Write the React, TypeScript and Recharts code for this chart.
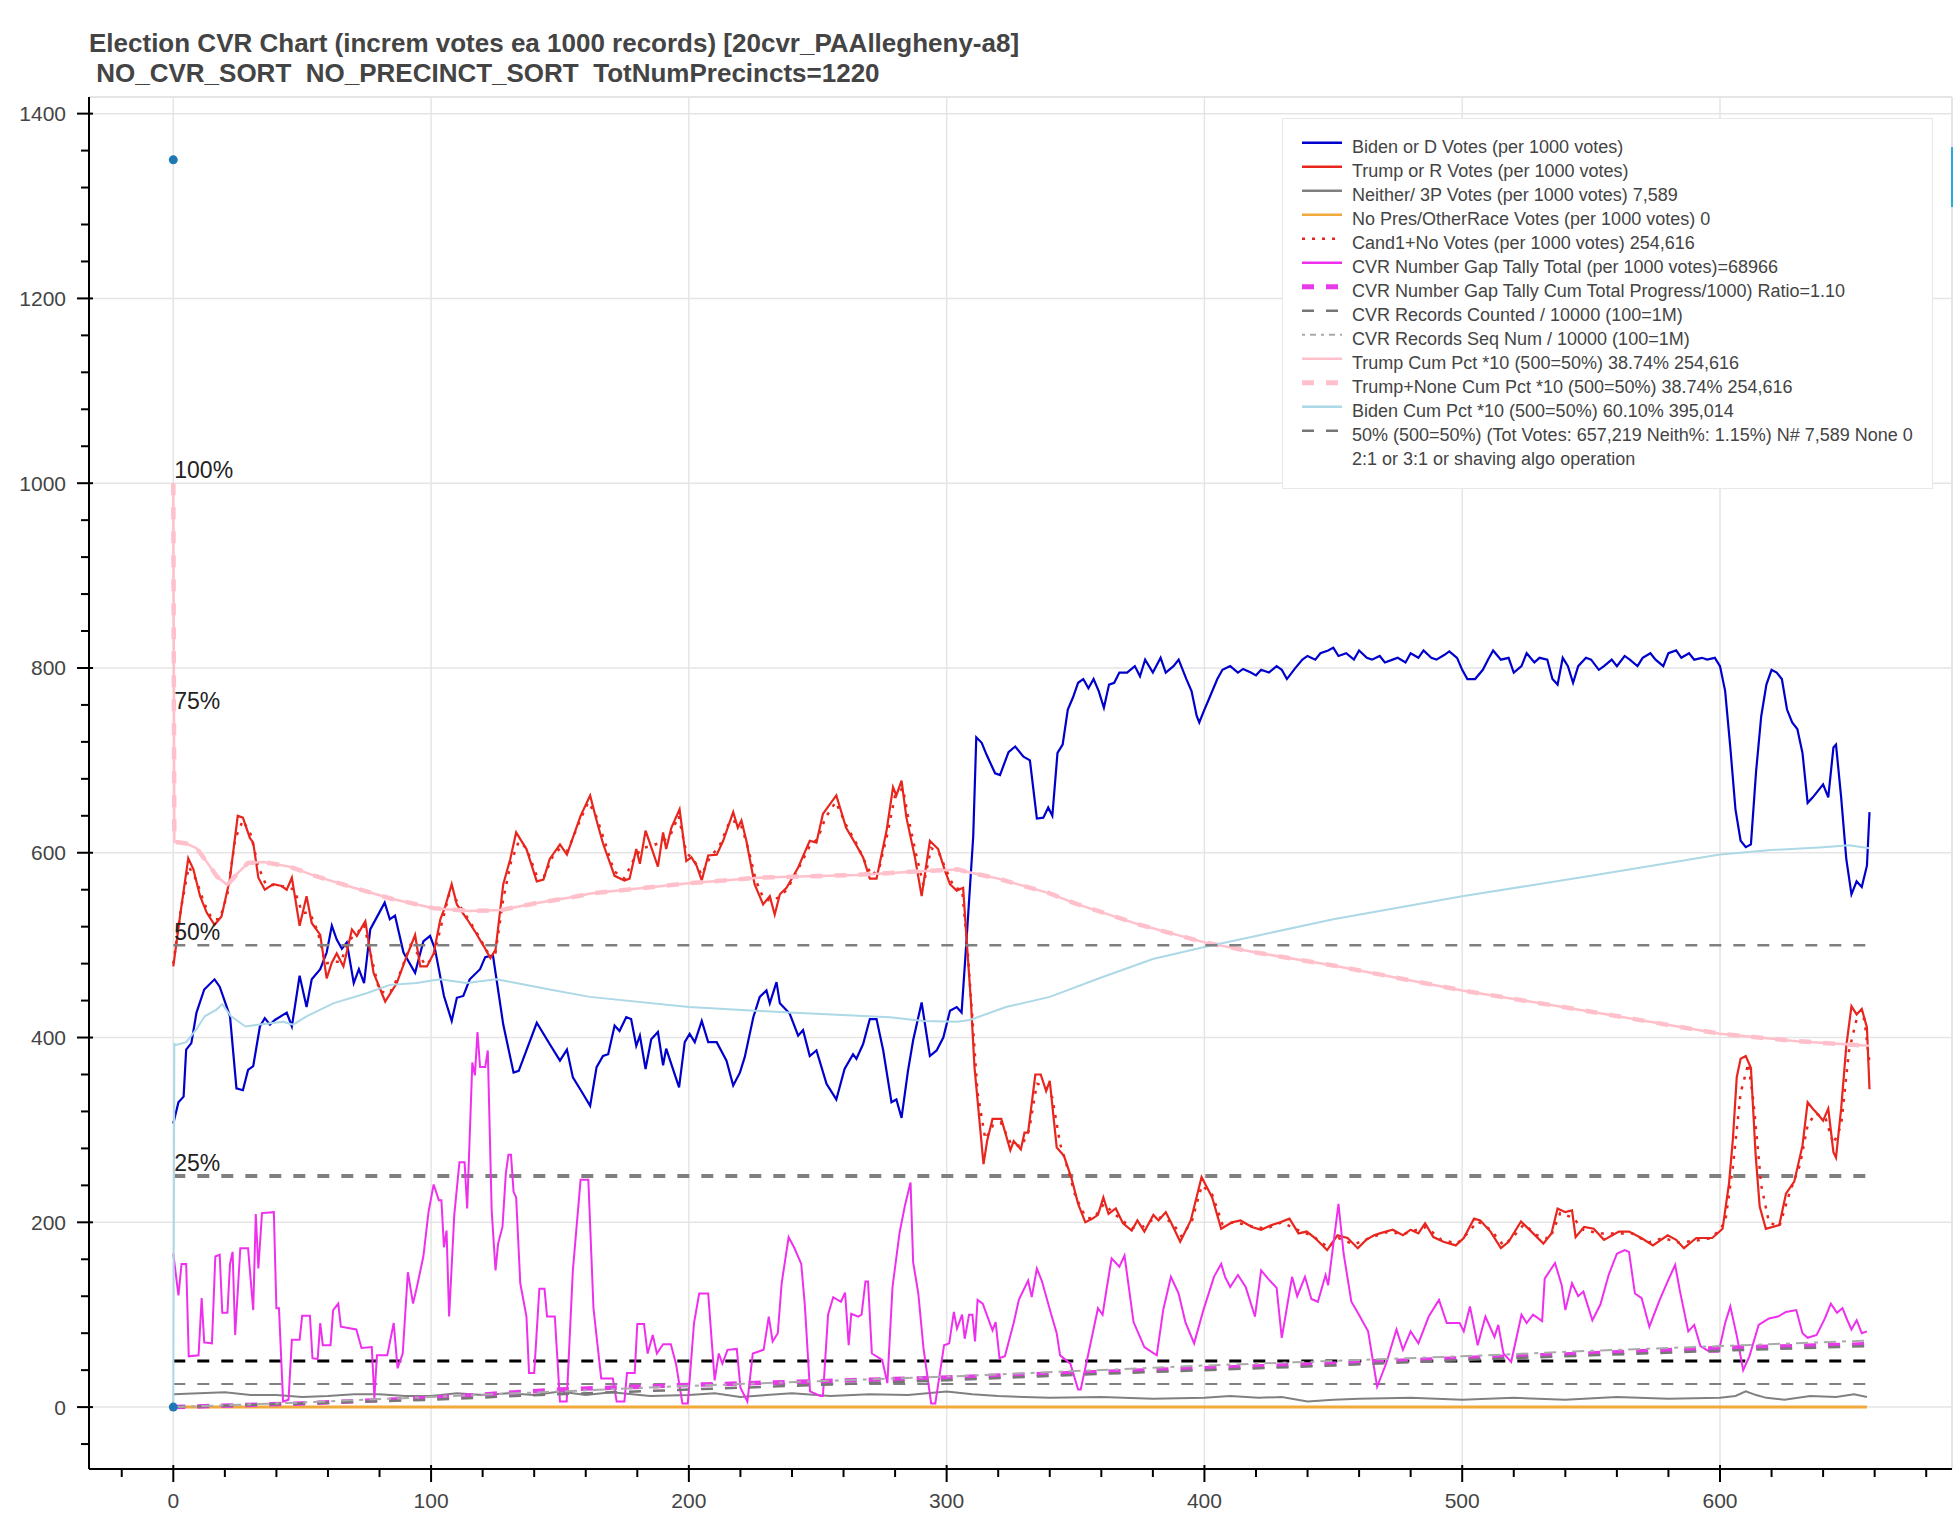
import React from 'react';
import { ComposedChart, Line, XAxis, YAxis, CartesianGrid, Scatter, ReferenceLine } from 'recharts';

const FONT = "'Liberation Sans', Arial, Helvetica, sans-serif";

const X_DOMAIN = [-32.7, 690];
const Y_DOMAIN = [-67, 1418];
const X_MAJOR = [0, 100, 200, 300, 400, 500, 600];
const X_MINOR = [-20, 20, 40, 60, 80, 120, 140, 160, 180, 220, 240, 260, 280, 320, 340, 360, 380, 420, 440, 460, 480, 520, 540, 560, 580, 620, 640, 660, 680];
const Y_MAJOR = [0, 200, 400, 600, 800, 1000, 1200, 1400];
const Y_MINOR = [-40, 40, 80, 120, 160, 240, 280, 320, 360, 440, 480, 520, 560, 640, 680, 720, 760, 840, 880, 920, 960, 1040, 1080, 1120, 1160, 1240, 1280, 1320, 1360];

const TITLE_1 = 'Election CVR Chart (increm votes ea 1000 records) [20cvr_PAAllegheny-a8]';
const TITLE_2 = ' NO_CVR_SORT  NO_PRECINCT_SORT  TotNumPrecincts=1220';

const BIDEN = [[0,307],[2,330],[4,336],[5,387],[7,394],[9,427],[12,452],[16,463],[18,455],[22,423],[24.5,345],[27,343],[29,365],[31,369],[33.6,412],[35.5,421],[37.5,414],[39.4,419],[44,427],[46,412],[49,467],[51.7,433],[53.7,463],[57,474],[59.5,492],[61.5,521],[63.4,506],[65.4,496],[67.3,503],[70,459],[72,474],[74,459],[76.4,517],[82,546],[84,528],[86,532],[89.3,492],[93.8,470],[97,504],[99.6,510],[101.5,496],[105,445],[108,418],[110,443],[112.5,445],[115,463],[119,474],[121,487],[124,489],[128,414],[132,362],[134,364],[141,416],[146,393],[150,375],[152.7,387],[155,357],[158.5,341],[161.7,326],[164.2,368],[166.7,380],[168.7,382],[171.2,413],[173.1,407],[175.7,422],[177.6,420],[179.6,391],[181,402],[183.2,366],[185.4,398],[188,406],[190,370],[191.2,388],[196.2,346],[198.4,395],[200.3,404],[202.3,395],[205,418],[207.5,395],[210.8,395],[214.6,375],[217.2,348],[219.8,362],[221.7,379],[225,422],[227.5,444],[230.1,451],[231.4,437],[234,460],[235.3,437],[239.1,426],[242.4,402],[244.3,408],[246.9,380],[249.5,386],[253.4,350],[257.2,333],[260.4,366],[263.7,382],[265,377],[267.6,393],[270.2,420],[272.8,420],[275.4,386],[278.6,330],[280.5,333],[282.5,313],[285,364],[287,397],[290.3,438],[293.5,380],[296.1,386],[298.7,400],[301.3,429],[303.9,433],[305.8,427],[307.7,505],[310.3,617],[311.5,725],[313.6,719],[315.5,706],[318.8,686],[320.7,684],[324,709],[326.6,715],[329.8,704],[332.3,700],[335,637],[337.5,638],[339.4,649],[341,640],[343,708],[345,717],[347,755],[349,768],[351,784],[353,788],[355,778],[357,788],[359,775],[361,757],[363,782],[365,784],[367,795],[370,795],[373,802],[375,791],[377,809],[380,795],[383,811],[385,795],[388,802],[390,809],[393,788],[395,775],[397,748],[398,741],[400,755],[402,768],[405,788],[407,798],[410,802],[413,795],[415,799],[418,795],[420,792],[422,798],[425,795],[428,802],[430,798],[432,788],[435,799],[438,809],[440,813],[443,809],[445,816],[448,819],[450,822],[452,813],[455,816],[458,809],[460,819],[463,811],[465,809],[468,813],[470,806],[473,809],[475,811],[478,806],[480,816],[483,811],[485,819],[488,811],[490,809],[493,814],[495,818],[498,811],[500,798],[502,788],[505,788],[508,798],[510,809],[512,819],[515,809],[518,811],[520,795],[523,802],[525,816],[528,806],[530,811],[533,809],[535,788],[537,782],[539,811],[541,802],[543,784],[545,802],[548,811],[550,809],[553,798],[555,802],[558,809],[560,802],[563,813],[565,809],[568,802],[570,811],[573,816],[575,809],[578,802],[580,816],[583,819],[585,811],[588,816],[590,809],[593,811],[595,809],[598,811],[600,802],[602,775],[604,714],[606,647],[608,613],[610,606],[612,609],[614,688],[616,748],[618,782],[620,798],[622,795],[624,788],[626,755],[628,741],[630,734],[632,708],[634,654],[636,660],[638,667],[640,674],[642,660],[644,714],[645,717],[647,660],[649,593],[651,555],[653,569],[655,563],[657,586],[658,644]];

const TRUMP = [[0,477],[2.6,531],[5.8,594],[7.8,582],[10.4,553],[13,535],[16,522],[18.7,531],[21.9,571],[25,640],[27,638],[29.7,616],[31,611],[33,573],[35.5,560],[38.8,566],[42,564],[44,560],[46,573],[49,521],[51.7,553],[53.7,524],[57,511],[59.5,464],[61.5,481],[63.4,491],[66,477],[69.3,517],[71.2,510],[74.5,526],[77.7,470],[82.2,439],[86.7,459],[90,484],[93.8,511],[95.8,477],[98.4,477],[101,491],[103.6,528],[105.5,542],[108,566],[110,544],[114,528],[117,515],[120.4,499],[123,486],[125,495],[128,566],[130.7,593],[133,622],[137,604],[141,569],[143.6,571],[146,593],[150,609],[152.7,598],[158,640],[161.7,662],[164.2,635],[166.7,610],[171.2,575],[175,570],[177,572],[179.6,604],[181,588],[183.2,624],[185.4,606],[188,585],[190,622],[191.2,604],[193.2,627],[196.4,647],[199,591],[201,595],[203,586],[205,570],[207.5,597],[210.8,598],[213.3,613],[217.2,644],[219,627],[220.4,635],[222.3,613],[225.5,566],[228.8,544],[231.4,553],[233.3,533],[235.3,555],[237.9,562],[242.4,584],[246.9,613],[249.5,611],[252,642],[257.2,662],[261,627],[265,608],[267.6,595],[270.2,572],[272.8,572],[276.7,624],[279.2,671],[280.5,662],[282.5,678],[284.4,638],[287.7,595],[290.3,553],[293.5,613],[296.7,604],[299.3,581],[301.3,566],[303.9,559],[306.4,562],[307.7,508],[309.4,440],[310.8,368],[314.3,263],[315.7,288],[317.8,312],[321.2,312],[324.7,278],[326,288],[328.8,279],[330.2,297],[331.6,297],[334.4,360],[336.5,360],[338.6,342],[340,353],[342.7,281],[345.5,272],[348.3,249],[351,220],[353.8,200],[356.6,204],[358.7,208],[360.8,227],[362.8,209],[365.6,215],[368.4,199],[371.8,191],[374,202],[376.7,190],[380.2,208],[382.2,202],[385,211],[387,200],[390.6,179],[394.7,202],[398.9,249],[403,227],[406.5,193],[410.7,200],[414,202],[418.4,195],[422,192],[426,197],[429.4,200],[433,204],[436.5,188],[439.7,190],[442.9,183],[447.6,170],[451.6,186],[455.5,183],[459.5,172],[462.7,181],[465.8,186],[468,188],[473,192],[477,186],[480,192],[483,188],[485.6,199],[488.8,184],[492.7,179],[497.5,175],[500.6,183],[504.6,204],[507,202],[511,190],[515,172],[518,179],[522.8,201],[527.5,188],[531.5,177],[534.6,188],[537,215],[540,211],[542.6,213],[544,184],[547.3,195],[551,193],[555,181],[560.8,190],[564.7,190],[569.5,183],[574,175],[579.7,186],[583,181],[586,172],[590.8,183],[597,183],[601,193],[603.5,242],[605,290],[606.5,357],[608,377],[610,380],[612,367],[613.8,274],[615.4,217],[617.8,193],[623,197],[625.6,231],[628.8,244],[632,283],[634,330],[636,323],[638,317],[640,310],[642,323],[644,276],[645,270],[647,323],[649,391],[651,434],[653,425],[655,431],[657,411],[658,344]];

const CAND1 = [[0,480],[3,540],[6,585],[9,570],[12,545],[15,528],[18,528],[21,555],[24,615],[27,635],[30,620],[33,585],[36,565],[40,565],[44,563],[47,560],[50,535],[53,535],[56,515],[59,480],[62,482],[65,482],[68,505],[71,512],[74,522],[77,485],[80,450],[84,448],[88,470],[92,500],[95,490],[98,478],[101,488],[104,522],[107,555],[110,548],[114,530],[118,512],[122,492],[125,492],[128,550],[131,590],[134,612],[137,605],[141,575],[144,575],[147,595],[150,605],[153,602],[157,630],[161,655],[164,640],[167,615],[171,580],[175,572],[179,595],[182,605],[186,608],[190,612],[193,620],[196,640],[199,600],[202,592],[205,576],[208,594],[212,608],[216,635],[220,632],[223,605],[226,570],[229,550],[232,548],[235,552],[238,560],[242,580],[247,608],[250,615],[253,638],[257,655],[261,630],[265,610],[268,592],[271,575],[274,585],[277,620],[280,662],[283,670],[285,640],[288,600],[291,565],[294,605],[297,600],[300,580],[303,562],[306,560],[308,500],[310,420],[312,340],[315,290],[318,305],[321,308],[325,285],[329,282],[332,300],[335,350],[338,348],[341,335],[344,285],[347,258],[350,228],[354,205],[357,204],[361,220],[364,212],[368,202],[372,194],[376,195],[380,203],[384,206],[388,198],[391,185],[395,200],[399,240],[403,230],[407,198],[412,200],[418,196],[424,193],[430,200],[436,192],[442,185],[448,173],[452,183],[458,176],[464,183],[470,189],[478,188],[486,195],[492,181],[498,177],[502,188],[506,201],[511,192],[516,175],[520,185],[524,198],[529,186],[534,182],[538,210],[543,205],[547,192],[553,188],[560,188],[566,188],[572,178],[578,183],[584,178],[590,180],[597,183],[602,200],[605,260],[608,340],[611,372],[613,330],[616,240],[619,200],[623,195],[627,232],[631,262],[634,305],[637,318],[641,312],[644,285],[647,305],[650,385],[653,420],[656,420],[658,372]];

const NEITHER = [[0,14],[10,15],[20,16],[30,13],[40,13],[50,11],[60,12],[70,14],[80,14],[90,12],[100,12],[110,15],[120,13],[130,15],[140,13],[150,17],[160,13],[170,16],[185,12],[200,13],[210,15],[220,11],[230,13],[240,15],[255,12],[270,14],[285,13],[300,17],[310,14],[320,12],[330,11],[340,10],[360,11],[380,9],[400,10],[410,12],[421,10],[430,11],[440,6],[450,8],[460,9],[480,10],[500,8],[520,10],[540,8],[560,11],[580,9],[600,10],[606,12],[610,17],[614,13],[618,10],[625,8],[635,12],[645,11],[652,14],[657,11]];

const NO_PRES = [[0,0],[657,0]];

const GAP = [[0,166],[2,121],[3.2,155],[5,155],[6,55],[9.8,56],[11,118],[12,70],[15,69],[16.3,163],[18,165],[19,102],[21,102],[22,155],[23,168],[24,78],[26,172],[29,172],[31,105],[32,209],[33,150],[34.4,210],[39,211],[40,107],[41,107],[42.6,6],[44.7,8],[46,73],[49,73],[50,99],[53,99],[54,53],[56,52],[57,91],[58,67],[61,67],[62,105],[64,112],[65,87],[71,84],[73,64],[77,65],[78,10],[79,56],[83,56],[85.5,91],[87,42],[89,58],[91,146],[93,112],[94.5,130],[97,163],[99,211],[101,241],[103,224],[104,224],[105,173],[106,191],[107,98],[109,208],[111,265],[113,265],[114,215],[116,373],[117,359],[118,406],[119,368],[121,368],[122,386],[123.5,213],[125,148],[126,177],[127.7,195],[129,253],[130,273],[131,273],[132,233],[133,227],[134.6,134],[137,98],[138,37],[140,37],[142,128],[144,128],[145,98],[148,98],[150,6],[152.6,6],[155,148],[158,246],[161,246],[163,107],[166,31],[170.5,31],[172,6],[175,6],[176,37],[179,37],[180,90],[182.6,90],[184,58],[186,78],[187.6,58],[190,68],[193,68],[195,47],[197.5,4],[199.6,4],[202,91],[204,123],[207.5,123],[210,29],[211.6,58],[213,47],[215,62],[218.6,63],[220,21],[222.7,6],[224.8,58],[229,62],[231,98],[232.5,71],[234.5,80],[236,134],[238.7,184],[240.8,173],[243.6,155],[245,110],[247,17],[251,12],[252,12],[254,100],[256,119],[259,114],[260.6,124],[262,67],[263,101],[265.7,98],[267,100],[268.5,136],[269.5,136],[271,58],[275,51],[277,26],[279,130],[281.7,188],[283.8,218],[286,243],[287,157],[289,123],[291,64],[294,4],[295.6,4],[299,67],[301,69],[302.8,103],[304,85],[306,100],[307,74],[308.7,100],[310,100],[311,71],[312,116],[314,112],[317.8,83],[319,92],[320.5,53],[322.6,55],[326,91],[328,116],[331.6,137],[333,119],[335,150],[337,136],[340.6,100],[342.7,80],[344,56],[348,47],[351,19],[352,19],[355,58],[358.7,107],[360.5,100],[362,127],[364,161],[367,152],[369,164],[372.5,92],[376.7,65],[381.5,56],[384,105],[387,141],[390,123],[392.6,92],[396,69],[399.6,105],[403.7,141],[406.5,155],[408,141],[410,130],[413,143],[416,130],[419.6,98],[422,148],[425,138],[428,129],[430,75],[434,141],[436,120],[439,141],[441.5,117],[444,114],[447,143],[448,132],[452,220],[454,166],[457,114],[459.5,102],[463.5,82],[467,22],[470.6,48],[474.5,84],[477,62],[480,82],[483,69],[487,98],[491,116],[494,91],[499,91],[500.6,82],[503,109],[506,67],[509,98],[512.5,76],[514,89],[516,58],[519,49],[523,100],[525,91],[527.5,100],[531,93],[532,139],[536,156],[538.6,132],[540,105],[542.6,134],[545,120],[547,125],[550.5,94],[553.6,111],[556.8,143],[560,166],[563,170],[564.7,168],[567,123],[569.6,118],[572.6,87],[576.6,116],[579.7,136],[582.6,154],[584.5,125],[587.7,82],[590,89],[592.4,66],[596,60],[599.5,60],[602,91],[604,109],[606.6,76],[609,40],[611.4,55],[615,89],[619,96],[622.5,98],[625.6,103],[629.6,105],[632,80],[634,75],[637.5,78],[640.7,96],[643,112],[645.4,102],[647.5,107],[649.4,94],[651,84],[653,94],[655,80],[657,82]];

const GAP_CUM = [[0,0],[50,4],[100,10],[150,19],[200,24],[250,28],[300,32],[350,37],[400,42],[450,47],[500,53],[550,58],[600,64],[657,68]];
const REC_COUNTED = [[0,0],[50,4],[100,8],[150,14],[200,19],[250,24],[300,29],[350,35],[400,40],[450,45],[500,51],[550,56],[600,61],[657,66]];
const REC_SEQ = [[0,0],[50,5],[100,11],[150,17],[200,23],[250,28],[300,33],[350,39],[400,45],[450,50],[500,55],[550,61],[600,66],[657,72]];

const TRUMP_CUM = [[0,1000],[0.4,612],[5,610],[9,605],[13,590],[17,574],[21,565],[25,578],[29,589],[35,590],[45,585],[55,575],[69,563],[85,550],[101,540],[115,537],[127,538],[140,545],[155,552],[162,556],[169,558],[200,567],[227,573],[265,576],[290,580],[304,582],[310,578],[320,572],[340,556],[350,545],[375,522],[400,503],[420,492],[450,478],[500,451],[550,428],[600,404],[630,396],[658,391]];
const TRUMP_NONE_CUM = TRUMP_CUM;

const BIDEN_CUM = [[0,0],[0.4,393],[1,392],[5,395],[9,409],[12.2,423],[16.6,430],[19,436],[22.4,423],[28,412],[33.6,414],[42.6,417],[46.5,414],[51.7,423],[62,437],[75,448],[84,457],[94.4,459],[103.4,463],[113.7,459],[125.3,463],[133,459],[146,452],[161.6,444],[200,433],[239,427],[278,422],[291,418],[304,417],[309,419],[323,433],[340,444],[360,465],[380,485],[400,498],[420,510],[450,528],[500,553],[550,575],[600,598],[620,603],[640,606],[650,608],[658,605]];

const LINE_50PCT = [[0,500],[657,500]];
const LINE_250 = [[0,250],[657,250]];
const LINE_50 = [[0,50],[657,50]];
const LINE_25 = [[0,25],[657,25]];

const DOTS = [[0,1350],[0,0]];
const PCT_LABELS = [
  { x: 0, y: 1000, t: '100%' },
  { x: 0, y: 750, t: '75%' },
  { x: 0, y: 500, t: '50%' },
  { x: 0, y: 250, t: '25%' },
];

const LEGEND_ITEMS = [
  { label: 'Biden or D Votes (per 1000 votes)', color: '#0000cd', w: 2.5 },
  { label: 'Trump or R Votes (per 1000 votes)', color: '#e8261e', w: 2.5 },
  { label: 'Neither/ 3P Votes (per 1000 votes) 7,589', color: '#808080', w: 2.5 },
  { label: 'No Pres/OtherRace Votes (per 1000 votes) 0', color: '#f2a93b', w: 2.5 },
  { label: 'Cand1+No Votes (per 1000 votes) 254,616', color: '#e8261e', w: 2.5, dash: '3 7' },
  { label: 'CVR Number Gap Tally Total (per 1000 votes)=68966', color: '#ee30ee', w: 2.5 },
  { label: 'CVR Number Gap Tally Cum Total Progress/1000) Ratio=1.10', color: '#e83ae8', w: 5, dash: '12 12' },
  { label: 'CVR Records Counted / 10000 (100=1M)', color: '#777777', w: 2.5, dash: '12 12' },
  { label: 'CVR Records Seq Num / 10000 (100=1M)', color: '#aaaaaa', w: 2, dash: '3 5 6 5' },
  { label: 'Trump Cum Pct *10 (500=50%) 38.74% 254,616', color: '#ffc0cb', w: 2.5 },
  { label: 'Trump+None Cum Pct *10 (500=50%) 38.74% 254,616', color: '#ffc0cb', w: 5, dash: '12 12' },
  { label: 'Biden Cum Pct *10 (500=50%) 60.10% 395,014', color: '#add8e6', w: 2.5 },
  { label: '50% (500=50%) (Tot Votes: 657,219 Neith%: 1.15%) N# 7,589 None 0', color: '#777777', w: 2.5, dash: '12 12' },
  { label: '2:1 or 3:1 or shaving algo operation' },
];

const pts = (a: number[][]) => a.map(([x, y]) => ({ x, y }));
const X_TICKS = [...X_MAJOR, ...X_MINOR].sort((a, b) => a - b);
const Y_TICKS = [...Y_MAJOR, ...Y_MINOR].sort((a, b) => a - b);

function XTick(props: any) {
  const { x, y, payload } = props;
  const v = payload.value;
  const major = X_MAJOR.includes(v);
  return (
    <g>
      <line x1={x} x2={x} y1={major ? y - 4 : y} y2={y + (major ? 13 : 8)} stroke="#000" strokeWidth={2} />
      {major && (
        <text x={x} y={y + 31} textAnchor="middle" dominantBaseline="central" fontSize={21} fill="#444" fontFamily={FONT}>
          {v}
        </text>
      )}
    </g>
  );
}

function YTick(props: any) {
  const { x, y, payload } = props;
  const v = payload.value;
  const major = Y_MAJOR.includes(v);
  return (
    <g>
      <line x1={x - (major ? 12 : 8)} x2={major ? x + 4 : x} y1={y} y2={y} stroke="#000" strokeWidth={2} />
      {major && (
        <text x={x - 23} y={y} textAnchor="end" dominantBaseline="central" fontSize={21} fill="#444" fontFamily={FONT}>
          {v}
        </text>
      )}
    </g>
  );
}

const DotShape = (p: any) => <circle cx={p.cx} cy={p.cy} r={4.5} fill="#1f77b4" />;
const LabelShape = (p: any) => (
  <text x={p.cx + 1} y={p.cy - 5} fontSize={23} fill="#222" fontFamily={FONT}>
    {p.payload.t}
  </text>
);

function LegendBox() {
  return (
    <div
      style={{
        position: 'absolute', left: 1282, top: 118, width: 651, height: 371,
        background: '#fff', border: '1.5px solid #e8e8e8', boxSizing: 'border-box',
      }}
    >
      <svg width={648} height={368} style={{ position: 'absolute', left: 0, top: 0 }}>
        {LEGEND_ITEMS.map((it, i) => {
          const gy = 23.7 + 24 * i;
          const ty = 34.3 + 24 * i;
          return (
            <g key={i}>
              {it.color && (
                <line x1={19} x2={59} y1={gy} y2={gy} stroke={it.color} strokeWidth={it.w} strokeDasharray={it.dash} />
              )}
              <text x={69} y={ty} fontSize={18} fill="#444" fontFamily={FONT}>
                {it.label}
              </text>
            </g>
          );
        })}
      </svg>
    </div>
  );
}

export default function App() {
  const common = { type: 'linear' as const, dataKey: 'y', dot: false, activeDot: false, isAnimationActive: false, legendType: 'none' as const };
  return (
    <div style={{ position: 'absolute', left: 0, top: 0, width: 1953, height: 1519, background: '#fff', fontFamily: FONT }}>
      <svg width={1953} height={95} style={{ position: 'absolute', left: 0, top: 0 }}>
        <text x={89} y={51.7} fontSize={26} fontWeight="bold" fill="#444" fontFamily={FONT} style={{ whiteSpace: 'pre' }}>
          {TITLE_1}
        </text>
        <text x={89} y={81.7} fontSize={26} fontWeight="bold" fill="#444" fontFamily={FONT} style={{ whiteSpace: 'pre' }}>
          {TITLE_2}
        </text>
      </svg>
      <div style={{ position: 'absolute', left: 0, top: 0 }}>
        <ComposedChart width={1953} height={1519} margin={{ top: 97, right: 1, bottom: 0, left: 0 }}>
          <CartesianGrid stroke="#e5e5e5" strokeWidth={1.5} horizontalValues={Y_MAJOR} verticalValues={X_MAJOR} />
          <ReferenceLine y={Y_DOMAIN[1]} stroke="#e5e5e5" strokeWidth={2} />
          <ReferenceLine x={X_DOMAIN[1]} stroke="#e5e5e5" strokeWidth={2} />
          <XAxis
            dataKey="x" type="number" domain={X_DOMAIN} allowDataOverflow ticks={X_TICKS} interval={0}
            height={50} tickSize={0} tickMargin={0} tickLine={false}
            axisLine={{ stroke: '#000', strokeWidth: 2 }} tick={<XTick />}
          />
          <YAxis
            type="number" domain={Y_DOMAIN} allowDataOverflow ticks={Y_TICKS} interval={0}
            width={89} tickSize={0} tickMargin={0} tickLine={false}
            axisLine={{ stroke: '#000', strokeWidth: 2 }} tick={<YTick />}
          />
          <Line {...common} data={pts(LINE_250)} stroke="#808080" strokeWidth={4} strokeDasharray="12 12" />
          <Line {...common} data={pts(LINE_50)} stroke="#000" strokeWidth={3} strokeDasharray="12 12" />
          <Line {...common} data={pts(LINE_25)} stroke="#808080" strokeWidth={2} strokeDasharray="12 12" />
          <Line {...common} data={pts(BIDEN)} stroke="#0000cd" strokeWidth={2.2} />
          <Line {...common} data={pts(TRUMP)} stroke="#e8261e" strokeWidth={2.2} />
          <Line {...common} data={pts(NEITHER)} stroke="#808080" strokeWidth={2} />
          <Line {...common} data={pts(NO_PRES)} stroke="#f2a93b" strokeWidth={3} />
          <Line {...common} data={pts(CAND1)} stroke="#e8261e" strokeWidth={2.5} strokeDasharray="3 7" />
          <Line {...common} data={pts(GAP)} stroke="#ee30ee" strokeWidth={2} />
          <Line {...common} data={pts(GAP_CUM)} stroke="#e83ae8" strokeWidth={4.5} strokeDasharray="12 12" />
          <Line {...common} data={pts(REC_COUNTED)} stroke="#777777" strokeWidth={2.5} strokeDasharray="12 12" />
          <Line {...common} data={pts(REC_SEQ)} stroke="#aaaaaa" strokeWidth={2} strokeDasharray="12 6 4 6" />
          <Line {...common} data={pts(TRUMP_CUM)} stroke="#ffc0cb" strokeWidth={2.5} />
          <Line {...common} data={pts(TRUMP_NONE_CUM)} stroke="#ffc0cb" strokeWidth={4.5} strokeDasharray="12 12" />
          <Line {...common} data={pts(BIDEN_CUM)} stroke="#add8e6" strokeWidth={2} />
          <Line {...common} data={pts(LINE_50PCT)} stroke="#808080" strokeWidth={2.5} strokeDasharray="12 12" />
          <Scatter data={pts(DOTS)} dataKey="y" isAnimationActive={false} shape={DotShape} legendType="none" />
          <Scatter data={PCT_LABELS} dataKey="y" isAnimationActive={false} shape={LabelShape} legendType="none" />
        </ComposedChart>
      </div>
      <LegendBox />
      <div style={{ position: 'absolute', left: 1951, top: 147, width: 2, height: 60, background: '#26aae1' }} />
    </div>
  );
}
